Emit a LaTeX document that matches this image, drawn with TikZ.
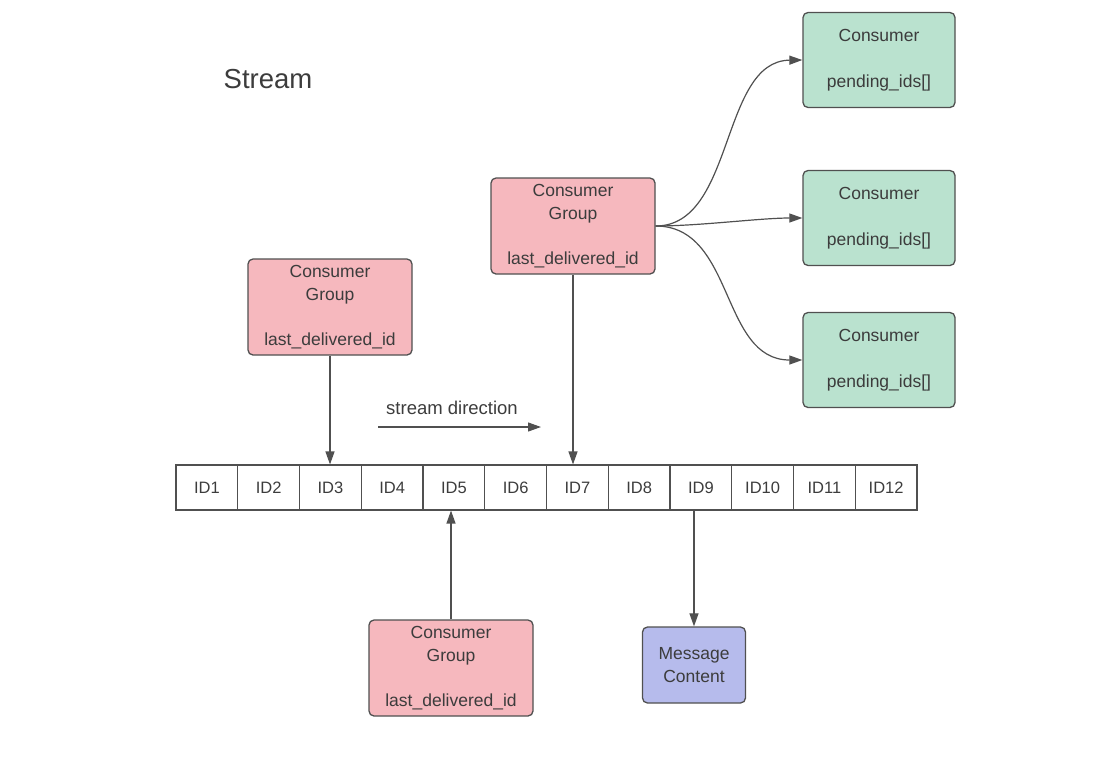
\documentclass[tikz,border=0pt]{standalone}
\usepackage{fontspec}
\setmainfont{Liberation Sans}
\usetikzlibrary{arrows.meta}
\definecolor{pinkfill}{RGB}{246,184,190}
\definecolor{greenfill}{RGB}{186,226,207}
\definecolor{bluefill}{RGB}{182,187,236}
\definecolor{edge}{RGB}{80,80,80}
\definecolor{txt}{RGB}{60,60,60}
\tikzset{
  box/.style={draw=edge, line width=1.3pt, rounded corners=5pt, align=center, text=txt,
    font=\fontsize{17.5}{23}\selectfont, inner sep=0pt},
  grp/.style={box, fill=pinkfill, minimum width=164pt, minimum height=96pt},
  cons/.style={box, fill=greenfill, minimum width=152pt, minimum height=95pt},
  msg/.style={box, fill=bluefill, minimum width=103pt, minimum height=76pt},
  cell/.style={draw=edge, line width=1.1pt, minimum width=61.75pt, minimum height=45pt,
    inner sep=0pt, text=txt, font=\fontsize{16.5}{18}\selectfont},
  conn/.style={draw=edge, line width=1.2pt, -{Triangle[length=13pt,width=9pt]}},
  lbl/.style={text=txt, inner sep=0pt}
}
\begin{document}
\begin{tikzpicture}[x=1pt, y=-1pt]
\useasboundingbox (0,0) rectangle (1120,756);
\node[lbl, font=\fontsize{27.5}{30}\selectfont] (title) at (268,79) {Stream};
% ID cells
\foreach \i in {1,...,12} {
  \node[cell] (id\i) at ({176+61.75*(\i-0.5)},487.5) {ID\i};
}
% consumer groups
\node[grp] (g1) at (330,307) {Consumer\\Group\\[22pt]last\_delivered\_id};
\node[grp] (g2) at (573,226) {Consumer\\Group\\[22pt]last\_delivered\_id};
\node[grp] (g3) at (451,668) {Consumer\\Group\\[22pt]last\_delivered\_id};
% consumers
\node[cons] (c1) at (879,60) {Consumer\\[23pt]pending\_ids[]};
\node[cons] (c2) at (879,218) {Consumer\\[23pt]pending\_ids[]};
\node[cons] (c3) at (879,360) {Consumer\\[23pt]pending\_ids[]};
% message
\node[msg] (m) at (694,665) {Message\\Content};
% stream direction
\node[lbl, font=\fontsize{18.5}{20}\selectfont] (sd) at (452,408) {stream direction};
\coordinate (sdA) at (378,427);
\coordinate (sdB) at (541,427);
\draw[conn] (sdA) -- (sdB);
% connectors
\draw[conn] (g1.south) -- (g1.south |- id3.north);
\draw[conn] (g2.south) -- (g2.south |- id7.north);
\draw[conn] (g3.north) -- (g3.north |- id5.south);
\draw[conn] (id9.south -| m.north) -- (m.north);
\draw[conn] (g2.east) .. controls (735,226) and (720,61) .. (c1.west);
\draw[conn] (g2.east) .. controls (700,226) and (760,218) .. (c2.west);
\draw[conn] (g2.east) .. controls (735,226) and (720,360) .. (c3.west);
\end{tikzpicture}
\end{document}
